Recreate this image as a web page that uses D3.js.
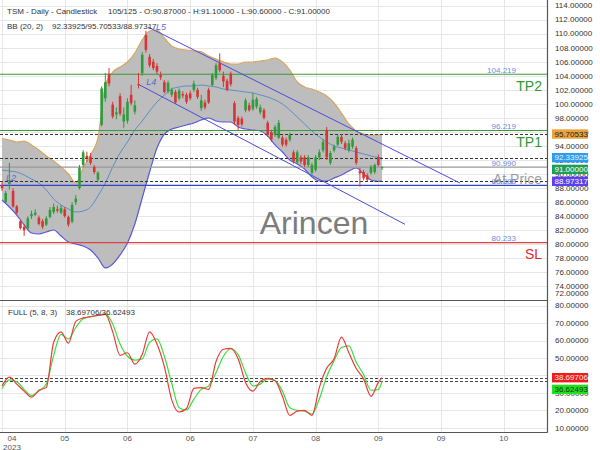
<!DOCTYPE html>
<html><head><meta charset="utf-8">
<script src="https://cdnjs.cloudflare.com/ajax/libs/d3/7.8.5/d3.min.js"></script>
<style>html,body{margin:0;padding:0;background:#fff}svg{display:block;font-family:"Liberation Sans",Arial,sans-serif}</style>
</head><body><svg id="c" width="600" height="450"></svg>
<script>
// ---------- DATA ----------
const opens  = [88.4,86.0,88.6,87.6,85.4,83.3,82.5,82.3,84.0,84.2,83.8,83.3,82.8,83.9,84.6,85.0,84.5,85.0,83.9,83.2,86.0,88.0,91.3,92.6,92.5,91.0,89.2,97.0,100.8,104.3,99.9,98.5,101.1,97.5,97.6,101.3,98.9,102.8,104.4,109.8,106.7,106.0,105.4,104.1,103.1,101.8,101.3,101.7,100.8,101.4,101.3,101.5,102.0,102.0,99.4,100.2,102.0,102.7,103.7,105.8,104.0,103.3,104.3,100.1,98.0,97.9,99.1,99.8,99.3,99.6,98.8,99.1,97.3,96.0,95.6,95.2,95.2,94.9,94.9,93.1,91.7,92.4,92.4,91.3,90.2,90.6,92.4,93.4,96.3,91.6,93.4,94.2,95.3,94.4,93.4,93.9,93.7,90.4,90.3,89.8,90.2,90.3,92.4,90.87];
const highs  = [89.0,87.6,91.6,88.0,85.6,83.5,82.8,84.0,84.8,85.0,84.1,83.6,84.0,85.3,85.8,85.5,85.6,85.3,84.1,86.0,87.0,91.3,93.4,93.2,93.0,91.3,90.4,102.5,104.4,105.1,100.3,99.5,101.5,99.5,100.8,102.7,100.5,104.4,107.4,110.4,107.1,106.4,105.8,104.6,103.4,103.3,102.3,102.0,102.2,101.8,101.6,101.9,103.3,102.3,101.3,100.6,102.3,104.4,105.8,107.2,104.6,103.6,104.6,100.4,98.3,98.2,100.8,100.2,101.6,101.0,99.9,99.4,97.6,96.3,97.0,97.7,95.5,95.2,95.9,93.4,93.4,92.7,92.7,92.7,91.6,92.7,93.5,95.0,96.7,93.3,94.2,95.6,95.7,94.7,94.9,95.2,94.0,90.9,90.6,90.1,91.3,91.5,92.8,91.1];
const lows   = [87.6,85.8,87.8,85.2,84.2,82.1,81.2,82.0,83.6,84.0,82.7,82.2,82.6,83.7,84.3,84.5,84.3,83.8,82.5,83.0,85.6,87.8,91.0,91.7,91.3,90.0,88.9,96.8,100.3,102.5,97.9,97.8,98.3,96.6,97.2,99.8,98.5,102.2,104.0,107.3,105.2,104.8,104.2,103.4,101.5,101.5,101.0,100.0,100.5,100.8,100.0,100.5,101.7,100.7,99.0,99.2,100.0,102.5,103.4,104.5,102.4,101.8,102.5,97.0,96.3,96.8,98.8,98.9,99.0,99.3,98.5,97.8,95.3,94.6,95.3,95.0,93.9,93.9,94.6,91.5,91.4,91.4,91.0,91.0,89.9,90.3,92.0,93.1,92.0,91.3,93.1,94.0,94.3,93.4,93.1,93.6,91.3,88.2,89.1,89.0,89.9,90.0,91.1,90.6];
const closes = [88.0,87.3,88.9,85.4,84.5,82.3,82.0,83.7,84.3,84.5,82.9,82.5,83.7,84.9,85.3,84.8,85.2,84.0,82.8,85.6,86.5,90.9,93.1,92.3,91.6,90.3,90.2,102.2,103.1,102.9,98.2,98.8,98.6,98.5,100.3,100.1,99.8,102.7,107.0,107.7,105.5,105.1,104.6,103.8,101.7,103.0,102.0,100.2,101.9,101.2,100.3,100.8,102.9,101.0,100.5,99.5,100.2,104.1,105.5,104.8,103.2,102.0,102.8,97.5,97.0,97.1,100.5,99.1,100.6,100.7,99.5,98.0,95.6,94.9,96.7,97.3,94.2,94.2,95.6,91.8,93.1,91.8,91.3,92.4,91.3,92.4,93.1,94.6,92.4,93.0,93.9,95.3,94.6,93.7,94.4,94.9,91.6,90.1,89.4,89.2,91.0,91.3,91.3,91.0];

// indicator samples (bar index of each sample)
const sampleIdx = d3.range(0, 103, 2).concat([103]);
const bbUpper  = [95.07,94.86,94.57,94.71,94.15,93.43,92.58,91.87,91.01,90.01,88.73,90.87,92.72,95.14,102.69,104.54,105.26,105.97,107.25,109.10,110.38,110.53,109.39,108.25,107.82,107.68,107.54,107.40,106.82,106.40,105.97,105.68,105.68,105.97,105.97,106.11,106.25,106.54,105.97,104.83,103.12,102.41,102.12,101.70,101.13,100.13,98.70,97.14,96.14,95.71,95.57,95.57,95.70533];
const bbMiddle = [90.58,90.44,90.30,89.87,89.30,88.73,87.74,86.45,85.60,85.03,84.60,84.74,85.31,86.88,88.73,91.01,93.01,94.57,96.28,97.56,98.99,100.26,101.27,102.12,102.41,102.55,102.55,102.69,102.55,102.41,102.12,101.98,101.84,101.70,101.55,101.27,100.98,100.56,99.99,99.13,98.13,97.14,96.14,95.29,94.57,94.00,93.72,93.43,93.15,92.87,92.58,92.37,92.33925];
const bbLower  = [86.31,85.31,84.17,82.75,81.61,81.47,81.75,82.04,81.18,80.33,80.04,79.76,79.19,78.05,76.62,77.19,78.48,80.19,82.89,86.60,90.30,93.72,95.71,96.42,96.71,96.99,97.28,97.71,97.99,97.56,97.42,97.42,96.71,96.42,96.28,96.14,95.43,94.15,93.15,92.01,91.44,90.73,89.59,89.02,89.02,89.44,89.87,90.44,90.87,90.01,89.16,88.95,88.97317];
const stochK   = [34,39,35,31,27.5,31.5,33,59,65,58.5,71,73,73.7,74.4,75,65,51.5,53,46.5,52,65,58,45,26,19,21,32.6,33,32,48,55,55.5,49.5,36,31,36.5,38.3,37,28,17,19.5,20,17,33,44.2,49.5,62,53,44,38,28,36,38.69706];
const stochD   = [32.5,37.5,36.4,32,28.5,31,35,51.5,63.5,61,67.5,72.5,73.7,74.4,75.3,69.5,58,51,48.8,49.5,59,61,51,35.5,21.5,20.2,26.4,32,34,41.5,51,55.3,52,41.5,34,35,38,37,31,21.5,20,19.5,17.8,26.5,39.3,48.5,56,57,47.5,40.5,31.5,32,36.62493];

const tickIdx    = [0,17,34,51,68,85,102,119,136];
const tickLabels = ["04","05","06","06","07","08","09","09","10"];
const yearLabel  = "2023";
const priceTicks = d3.range(72, 115, 2);
const oscTicks   = [10,20,30,40,50,60,70,80];

const levelValues = [104.219, 96.219, 90.990, 88.388, 80.233];
const levelLabels = ["104.219","96.219","90.990","88.388","80.233"];
const levelTags   = ["TP2","TP1","At Price","","SL"];
const channelUpper = [[39.57,110.95],[124.1,88.73]];
const channelLower = [[36.94,102.79],[109.2,82.85]];
const lastBB = {mid:92.33925, up:95.70533, low:88.97317};
const lastClose = 91.0;
const titleMain = "TSM - Daily - Candlestick";
const titleBar  = "105/125 - O:90.87000 - H:91.10000 - L:90.60000 - C:91.00000";

// ---------- LAYOUT ----------
const svg = d3.select("#c");
const R = 547.5, mainTop = 0, mainBot = 300, oscTop = 300, oscBot = 432.5;
const x = d3.scaleLinear().domain([0, 147.7]).range([2, 547]);
const y = d3.scaleLinear().domain([72.065, 114.80]).range([mainBot, mainTop]);
const yo = d3.scaleLinear().domain([7.25, 83.27]).range([oscBot, oscTop]);
const fmt = d3.format(".5f");

svg.append("rect").attr("width",600).attr("height",450).attr("fill","#fff");
const defs = svg.append("defs");
defs.append("clipPath").attr("id","cm").append("rect").attr("x",0).attr("y",mainTop).attr("width",R).attr("height",mainBot-mainTop);
defs.append("clipPath").attr("id","co").append("rect").attr("x",0).attr("y",oscTop).attr("width",R).attr("height",oscBot-oscTop);

// gridlines
const grid = svg.append("g").attr("stroke","#e6e6e6").attr("stroke-width",1);
priceTicks.forEach(v=>grid.append("line").attr("x1",0).attr("x2",R).attr("y1",Math.round(y(v))+0.5).attr("y2",Math.round(y(v))+0.5));
oscTicks.forEach(v=>grid.append("line").attr("x1",0).attr("x2",R).attr("y1",Math.round(yo(v))+0.5).attr("y2",Math.round(yo(v))+0.5));
tickIdx.forEach(t=>{const xx=Math.round(x(t))+0.5; grid.append("line").attr("x1",xx).attr("x2",xx).attr("y1",0).attr("y2",oscBot);});

// ---------- MAIN PANEL ----------
const gm = svg.append("g").attr("clip-path","url(#cm)");
const bb = sampleIdx.map((d,i)=>({i:d,u:bbUpper[i],m:bbMiddle[i],l:bbLower[i]}));
gm.append("path").datum(bb).attr("fill","#bdbdbd")
  .attr("d", d3.area().x(d=>x(d.i)).y0(d=>y(d.l)).y1(d=>y(d.u)).curve(d3.curveMonotoneX));
gm.append("path").datum(bb).attr("fill","none").attr("stroke","#d9a55e").attr("stroke-width",1.2)
  .attr("d", d3.line().x(d=>x(d.i)).y(d=>y(d.u)).curve(d3.curveMonotoneX));
gm.append("path").datum(bb).attr("fill","none").attr("stroke","#5a58dc").attr("stroke-width",1.2)
  .attr("d", d3.line().x(d=>x(d.i)).y(d=>y(d.l)).curve(d3.curveMonotoneX));
gm.append("path").datum(bb).attr("fill","none").attr("stroke","#5b8fc4").attr("stroke-width",1)
  .attr("d", d3.line().x(d=>x(d.i)).y(d=>y(d.m)).curve(d3.curveMonotoneX));

// level lines
const levelColors = ["#3a9a3a","#3a9a3a","#9a9a9a","#3344cc","#e04040"];
levelValues.forEach((v,k)=>{
  gm.append("line").attr("x1",0).attr("x2",R).attr("y1",y(v)).attr("y2",y(v))
    .attr("stroke",levelColors[k]).attr("stroke-width",k===3?1.3:1.1);
});
// dashed BB last-value lines
[lastBB.up,lastBB.mid,lastBB.low].forEach(v=>{
  gm.append("line").attr("x1",0).attr("x2",R).attr("y1",Math.round(y(v))+0.5).attr("y2",Math.round(y(v))+0.5)
    .attr("stroke","#333").attr("stroke-width",1).attr("stroke-dasharray","3,2");
});
// channel lines
[channelUpper, channelLower].forEach(c=>{
  gm.append("line").attr("x1",x(c[0][0])).attr("y1",y(c[0][1])).attr("x2",x(c[1][0])).attr("y2",y(c[1][1]))
    .attr("stroke","#4b4bd8").attr("stroke-width",1);
});

// candles
const bars = opens.map((o,i)=>({i,o,h:highs[i],l:lows[i],c:closes[i]}));
const up="#2f9b3a", dn="#d63535";
const cg = gm.append("g");
bars.forEach(d=>{
  const col = d.c>=d.o?up:dn; const cx = x(d.i);
  cg.append("line").attr("x1",cx).attr("x2",cx).attr("y1",y(d.h)).attr("y2",y(d.l)).attr("stroke",col).attr("stroke-width",1);
  const top = y(Math.max(d.o,d.c)), bot = y(Math.min(d.o,d.c));
  cg.append("rect").attr("x",cx-1.3).attr("width",2.6).attr("y",top).attr("height",Math.max(1,bot-top)).attr("fill",col);
});

// channel labels
const lab = gm.append("g").attr("fill","#5566d6").attr("font-size",9).attr("font-style","italic");
lab.append("text").attr("x",x(channelUpper[0][0])+8).attr("y",y(channelUpper[0][1])+3).text("L5");
lab.append("text").attr("x",x(channelLower[0][0])+8).attr("y",y(channelLower[0][1])+1).text("L4");
lab.append("text").attr("x",6).attr("y",y(levelValues[3])-4).text("L2");

// level value labels and tags
levelValues.forEach((v,k)=>{
  gm.append("text").attr("x",516).attr("y",y(v)-1.5).attr("text-anchor","end").attr("font-size",8)
    .attr("fill","#6b8be0").text(levelLabels[k]);
});
const tagColors = ["#2e9a2e","#2e9a2e","#8c8c8c","","#e02a2a"];
levelValues.forEach((v,k)=>{
  if(!levelTags[k]) return;
  gm.append("text").attr("x",542).attr("y",y(v)+16.5).attr("text-anchor","end").attr("font-size",14)
    .attr("fill",tagColors[k]).attr("opacity",k===2?0.85:1).text(levelTags[k]);
});

// watermark
gm.append("text").attr("x",314).attr("y",234).attr("text-anchor","middle").attr("font-size",32)
  .attr("fill","#666").attr("opacity",0.85).text("Arincen");

// titles
const tg = svg.append("g").attr("fill","#333").attr("font-size",8);
tg.append("text").attr("x",7).attr("y",13.5).text(titleMain);
tg.append("text").attr("x",108).attr("y",13.5).text(titleBar);
tg.append("text").attr("x",7).attr("y",28.5).text("BB (20, 2)");
tg.append("text").attr("x",52).attr("y",28.5).text([lastBB.mid,lastBB.up,lastBB.low].map(fmt).join("/"));

// ---------- OSCILLATOR ----------
const go = svg.append("g").attr("clip-path","url(#co)");
[stochK[stochK.length-1], stochD[stochD.length-1]].forEach(v=>{
  go.append("line").attr("x1",0).attr("x2",R).attr("y1",Math.round(yo(v))+0.5).attr("y2",Math.round(yo(v))+0.5)
    .attr("stroke","#444").attr("stroke-width",1).attr("stroke-dasharray","3,2");
});
const kd = sampleIdx.map((d,i)=>({i:d,k:stochK[i],d:stochD[i]}));
go.append("path").datum(kd).attr("fill","none").attr("stroke","#3ddc3d").attr("stroke-width",1.2)
  .attr("d", d3.line().x(d=>x(d.i)).y(d=>yo(d.d)).curve(d3.curveMonotoneX));
go.append("path").datum(kd).attr("fill","none").attr("stroke","#ee3a3a").attr("stroke-width",1.2)
  .attr("d", d3.line().x(d=>x(d.i)).y(d=>yo(d.k)).curve(d3.curveMonotoneX));
svg.append("text").attr("x",8).attr("y",314.5).attr("font-size",8).attr("fill","#333").text("FULL (5, 8, 3)");
svg.append("text").attr("x",66).attr("y",314.5).attr("font-size",8).attr("fill","#333")
  .text(fmt(stochK[stochK.length-1])+"/"+fmt(stochD[stochD.length-1]));

// ---------- AXES ----------
svg.append("line").attr("x1",0).attr("x2",R).attr("y1",300.5).attr("y2",300.5).attr("stroke","#555").attr("stroke-width",1.2);
svg.append("line").attr("x1",0).attr("x2",R).attr("y1",oscBot).attr("y2",oscBot).attr("stroke","#555").attr("stroke-width",1.2);
svg.append("line").attr("x1",R).attr("x2",R).attr("y1",0).attr("y2",oscBot).attr("stroke","#555").attr("stroke-width",1.2);

const ax = svg.append("g").attr("font-size",8).attr("fill","#333");
priceTicks.forEach(v=>{
  ax.append("text").attr("x",555).attr("y",Math.min(y(v),293)).attr("dy","0.35em").text(fmt(v));
});
oscTicks.forEach(v=>{
  ax.append("text").attr("x",555).attr("y",yo(v)).attr("dy","0.35em").text(fmt(v));
});
// x ticks
tickIdx.forEach((t,k)=>{
  const xx = x(t);
  const first = k===0;
  ax.append("text").attr("x", first? xx+10 : xx).attr("y",441).attr("text-anchor","middle").attr("fill","#555").text(tickLabels[k]);
  if(first) ax.append("text").attr("x",xx+10).attr("y",449.5).attr("text-anchor","middle").attr("fill","#555").text(yearLabel);
});

// value boxes
function boxes(items){
  items.sort((a,b)=>a.y-b.y);
  let prev=-1e9;
  items.forEach(it=>{
    const cy = Math.max(it.y, prev+11.7); prev=cy;
    svg.append("rect").attr("x",552).attr("y",cy-4.7).attr("width",36).attr("height",9.4).attr("fill",it.bg);
    svg.append("text").attr("x",554.5).attr("y",cy).attr("dy","0.35em").attr("font-size",8).attr("fill",it.fg).text(fmt(it.v));
  });
}
boxes([
  {v:lastBB.up,  y:y(lastBB.up),  bg:"#e9a33c", fg:"#222"},
  {v:lastBB.mid, y:y(lastBB.mid), bg:"#2e9cf2", fg:"#e6f3ff"},
  {v:lastClose,  y:y(lastClose),  bg:"#1f9d55", fg:"#fff"},
  {v:lastBB.low, y:y(lastBB.low), bg:"#5b40f0", fg:"#fff"}
]);
boxes([
  {v:stochK[stochK.length-1], y:yo(stochK[stochK.length-1]), bg:"#ef1c1c", fg:"#ffe6e6"},
  {v:stochD[stochD.length-1], y:yo(stochD[stochD.length-1]), bg:"#1ee01e", fg:"#113311"}
]);
</script></body></html>
